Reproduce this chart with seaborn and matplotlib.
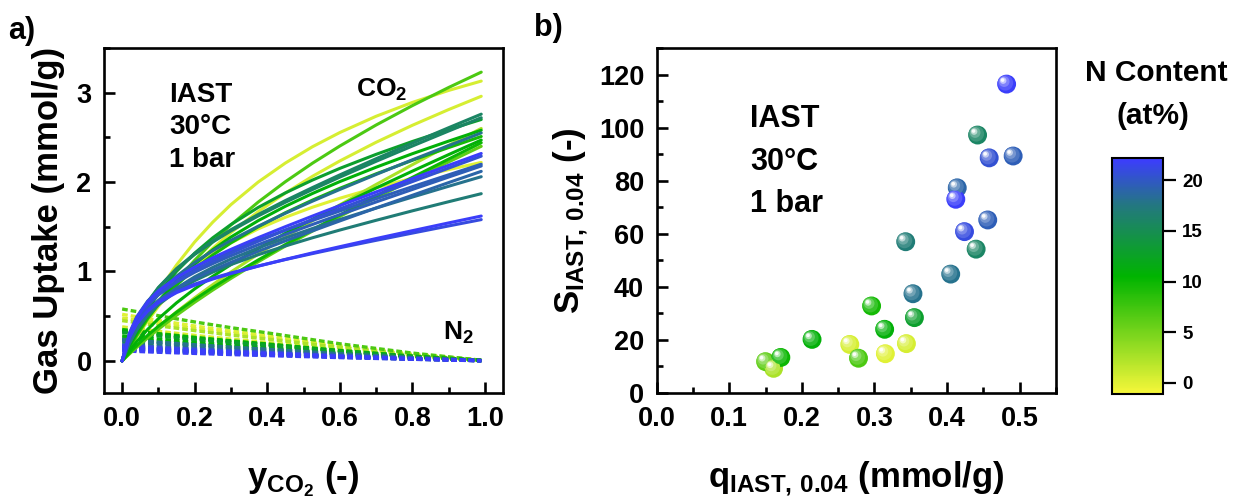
import matplotlib
matplotlib.use("Agg")
import numpy as np
import pandas as pd
import matplotlib.pyplot as plt
import seaborn as sns
from matplotlib import transforms
from matplotlib.cm import ScalarMappable
from matplotlib.colors import LinearSegmentedColormap, Normalize
from matplotlib.ticker import MultipleLocator

# ---------------------------------------------------------------- data
SAMPLES = ["C01", "C02", "C03", "C04", "C05", "C06", "C07", "C08", "C09",
           "C10", "C11", "C12", "C13", "C14", "C15", "C16", "C17", "C18",
           "C19", "C20", "C21", "C22", "C23"]

# nitrogen content of each carbon (at%)
N_CONTENT = [22.0, 16.0, 20.5, 19.5, 19.0, 22.0, 19.5, 21.0, 17.0, 16.0,
             18.0, 18.0, 9.5, 13.0, 11.0, 11.0, 0.5, 0.5, 0.0, 7.0,
             2.5, 6.0, 10.0]

# IAST CO2 uptake at y_CO2 = 0.04 (mmol/g) and CO2/N2 selectivity
Q_IAST = [0.482, 0.442, 0.458, 0.491, 0.414, 0.412, 0.456, 0.424, 0.343,
          0.440, 0.405, 0.353, 0.296, 0.355, 0.314, 0.214, 0.266, 0.344,
          0.315, 0.278, 0.161, 0.150, 0.171]
S_IAST = [116.4, 97.2, 88.6, 89.3, 77.3, 73.0, 65.2, 60.8, 57.0, 54.2,
          44.8, 37.4, 32.8, 28.4, 24.0, 20.2, 18.3, 18.6, 14.8, 13.1,
          9.3, 11.8, 13.4]

# IAST mixture isotherms at 30 °C, 1 bar, versus CO2 mole fraction
Y_CO2 = [0, 0.02, 0.04, 0.07, 0.1, 0.15, 0.2, 0.25, 0.3, 0.375, 0.45,
         0.525, 0.6, 0.7, 0.8, 0.9, 0.99]
CO2_UPTAKE = [
    [0, .302, .482, .657, .780, .931, 1.050, 1.153, 1.247, 1.378, 1.501, 1.620, 1.737, 1.889, 2.039, 2.187, 2.320],
    [0, .253, .442, .656, .821, 1.032, 1.199, 1.341, 1.467, 1.637, 1.793, 1.939, 2.080, 2.261, 2.436, 2.608, 2.760],
    [0, .286, .458, .626, .745, .892, 1.010, 1.112, 1.206, 1.337, 1.462, 1.582, 1.700, 1.854, 2.005, 2.156, 2.290],
    [0, .308, .491, .667, .787, .933, 1.046, 1.143, 1.230, 1.350, 1.463, 1.571, 1.676, 1.813, 1.948, 2.081, 2.200],
    [0, .258, .414, .567, .676, .811, .920, 1.015, 1.102, 1.225, 1.342, 1.454, 1.565, 1.710, 1.852, 1.994, 2.120],
    [0, .260, .412, .555, .651, .763, .846, .915, .976, 1.059, 1.135, 1.208, 1.277, 1.368, 1.456, 1.543, 1.620],
    [0, .286, .456, .622, .737, .879, .991, 1.088, 1.176, 1.299, 1.414, 1.526, 1.635, 1.777, 1.917, 2.056, 2.180],
    [0, .268, .424, .570, .666, .777, .858, .925, .983, 1.061, 1.133, 1.200, 1.265, 1.348, 1.429, 1.509, 1.580],
    [0, .197, .343, .506, .627, .780, .897, .993, 1.077, 1.187, 1.285, 1.377, 1.463, 1.572, 1.678, 1.780, 1.870],
    [0, .252, .440, .653, .816, 1.025, 1.190, 1.330, 1.454, 1.621, 1.774, 1.917, 2.055, 2.232, 2.403, 2.571, 2.720],
    [0, .231, .405, .602, .753, .947, 1.101, 1.232, 1.348, 1.506, 1.651, 1.787, 1.917, 2.085, 2.249, 2.408, 2.550],
    [0, .202, .353, .522, .650, .813, .940, 1.046, 1.139, 1.263, 1.375, 1.481, 1.581, 1.709, 1.832, 1.953, 2.060],
    [0, .158, .296, .477, .631, .848, 1.029, 1.184, 1.320, 1.499, 1.657, 1.799, 1.930, 2.092, 2.243, 2.386, 2.510],
    [0, .190, .355, .569, .750, 1.001, 1.205, 1.377, 1.525, 1.716, 1.879, 2.023, 2.153, 2.310, 2.454, 2.587, 2.700],
    [0, .167, .314, .505, .668, .895, 1.083, 1.244, 1.385, 1.568, 1.729, 1.873, 2.005, 2.166, 2.317, 2.458, 2.580],
    [0, .113, .214, .350, .471, .649, .805, .946, 1.077, 1.257, 1.426, 1.585, 1.737, 1.933, 2.122, 2.307, 2.470],
    [0, .138, .266, .444, .608, .852, 1.067, 1.260, 1.435, 1.669, 1.877, 2.065, 2.236, 2.445, 2.635, 2.811, 2.960],
    [0, .179, .344, .570, .775, 1.073, 1.330, 1.552, 1.748, 2.000, 2.213, 2.396, 2.554, 2.736, 2.891, 3.025, 3.130],
    [0, .169, .315, .503, .662, .878, 1.052, 1.197, 1.320, 1.476, 1.606, 1.719, 1.819, 1.937, 2.043, 2.139, 2.220],
    [0, .144, .278, .465, .637, .896, 1.125, 1.332, 1.521, 1.776, 2.004, 2.212, 2.403, 2.638, 2.855, 3.058, 3.230],
    [0, .082, .161, .274, .381, .548, .705, .853, .994, 1.194, 1.385, 1.568, 1.745, 1.973, 2.194, 2.410, 2.600],
    [0, .077, .150, .255, .354, .510, .655, .792, .922, 1.108, 1.284, 1.452, 1.615, 1.824, 2.028, 2.225, 2.400],
    [0, .089, .171, .284, .387, .544, .687, .821, .948, 1.128, 1.301, 1.468, 1.631, 1.843, 2.052, 2.257, 2.440],
]

Y_N2 = [0, 0.04, 0.1, 0.2, 0.3, 0.4, 0.6, 0.8, 0.99]
N2_UPTAKE = [
    [.110, .105, .096, .083, .070, .059, .036, .017, .001],
    [.120, .114, .104, .090, .077, .065, .040, .018, .001],
    [.130, .124, .113, .098, .083, .070, .043, .020, .002],
    [.140, .133, .122, .105, .090, .076, .046, .021, .002],
    [.140, .133, .122, .105, .090, .076, .046, .021, .002],
    [.150, .143, .131, .113, .096, .081, .050, .023, .002],
    [.180, .171, .157, .135, .115, .097, .059, .027, .002],
    [.170, .162, .148, .128, .109, .092, .056, .026, .002],
    [.160, .152, .139, .120, .102, .086, .053, .024, .002],
    [.210, .200, .183, .158, .134, .113, .069, .032, .003],
    [.230, .219, .200, .173, .147, .124, .076, .035, .003],
    [.240, .228, .209, .180, .154, .130, .079, .036, .003],
    [.250, .238, .218, .188, .160, .135, .083, .038, .003],
    [.320, .304, .278, .240, .205, .173, .106, .048, .004],
    [.340, .323, .296, .255, .218, .184, .112, .051, .004],
    [.280, .266, .244, .210, .179, .151, .092, .042, .003],
    [.380, .361, .331, .285, .243, .205, .125, .057, .005],
    [.480, .456, .418, .360, .307, .259, .158, .072, .006],
    [.520, .494, .452, .390, .333, .281, .172, .078, .006],
    [.580, .551, .505, .435, .371, .313, .191, .087, .007],
    [.450, .428, .392, .338, .288, .243, .149, .068, .005],
    [.330, .314, .287, .248, .211, .178, .109, .050, .004],
    [.350, .333, .305, .263, .224, .189, .116, .053, .004],
]

CBAR_TICKS = [0, 5, 10, 15, 20]

# ---------------------------------------------------------------- style
sns.set_style("ticks")
plt.rcParams.update({
    "font.family": ["Liberation Sans", "DejaVu Sans"],
    "font.weight": "bold",
    "axes.labelweight": "bold",
    "axes.linewidth": 1.9,
    "axes.edgecolor": "black",
    "axes.labelcolor": "black",
    "text.color": "black",
    "xtick.color": "black",
    "ytick.color": "black",
    "mathtext.fontset": "custom",
    "mathtext.rm": "Liberation Sans:bold",
    "mathtext.bf": "Liberation Sans:bold",
    "mathtext.it": "Liberation Sans:bold",
    "mathtext.default": "rm",
})

cmap = LinearSegmentedColormap.from_list(
    "n_content",
    [(0.0, "#f7f73a"), (0.498, "#00b400"), (0.798, "#23787f"), (1.0, "#3c3cff")],
)
norm = Normalize(vmin=-1.1, vmax=22.2)

fig = plt.figure(figsize=(12.34, 4.99), dpi=100)
ax1 = fig.add_axes([0.08428, 0.21242, 0.32334, 0.69138])
ax2 = fig.add_axes([0.53217, 0.21242, 0.32358, 0.69138])
cax = fig.add_axes([0.9009, 0.2104, 0.0413, 0.473])


def long_table(xs, table):
    rows = []
    for name, n, vals in zip(SAMPLES, N_CONTENT, table):
        for x, v in zip(xs, vals):
            rows.append((name, n, x, v))
    return pd.DataFrame(rows, columns=["sample", "N", "y", "uptake"])


co2_df = long_table(Y_CO2, CO2_UPTAKE)
n2_df = long_table(Y_N2, N2_UPTAKE)

# ---------------------------------------------------------------- panel a
sns.lineplot(data=n2_df, x="y", y="uptake", hue="N", units="sample",
             estimator=None, palette=cmap, hue_norm=norm, legend=False,
             lw=2.4, linestyle=(0, (1.7, 0.9)), ax=ax1)
sns.lineplot(data=co2_df, x="y", y="uptake", hue="N", units="sample",
             estimator=None, palette=cmap, hue_norm=norm, legend=False,
             lw=2.2, ax=ax1)

ax1.set_xlim(-0.05, 1.05)
ax1.set_ylim(-0.36, 3.5)
ax1.xaxis.set_minor_locator(MultipleLocator(0.1))
ax1.yaxis.set_major_locator(MultipleLocator(1))
ax1.yaxis.set_minor_locator(MultipleLocator(0.5))
ax1.set_xticks([0, 0.2, 0.4, 0.6, 0.8, 1.0])
ax1.set_xticklabels(["0.0", "0.2", "0.4", "0.6", "0.8", "1.0"])
ax1.set_xlabel("y$_{\\rm CO_2}$ (-)", fontsize=25, labelpad=20)
ax1.set_ylabel("Gas Uptake (mmol/g)", fontsize=25, labelpad=8)

t1 = dict(transform=ax1.transAxes, fontsize=20, fontweight="bold", va="baseline")
ax1.text(0.163, 0.843, "IAST", **t1)
ax1.text(0.163, 0.751, "30°C", **t1)
ax1.text(0.163, 0.655, "1 bar", **t1)
ax1.text(0.632, 0.858, "CO$_2$", transform=ax1.transAxes, fontsize=19,
         fontweight="bold", va="baseline")
ax1.text(0.850, 0.154, "N$_2$", transform=ax1.transAxes, fontsize=19,
         fontweight="bold", va="baseline")

# ---------------------------------------------------------------- panel b
sns.scatterplot(x=Q_IAST, y=S_IAST, hue=N_CONTENT, palette=cmap,
                hue_norm=norm, s=185, edgecolor="none", linewidth=0,
                legend=False, ax=ax2, zorder=3)

# glossy highlight layers that give each marker a spherical look
base = cmap(norm(np.array(N_CONTENT)))[:, :3]
for frac, size, off in [(0.15, 125, 0.9), (0.35, 60, 1.8), (0.70, 22, 2.5),
                        (0.97, 7, 2.9)]:
    shade = base + (1.0 - base) * frac
    tr = transforms.offset_copy(ax2.transData, fig=fig, x=-off, y=off,
                                units="points")
    ax2.scatter(Q_IAST, S_IAST, s=size, c=shade, edgecolors="none",
                transform=tr, zorder=4)

ax2.set_xlim(0, 0.55)
ax2.set_ylim(0, 130)
ax2.xaxis.set_minor_locator(MultipleLocator(0.05))
ax2.yaxis.set_major_locator(MultipleLocator(20))
ax2.yaxis.set_minor_locator(MultipleLocator(10))
ax2.set_xticks([0, 0.1, 0.2, 0.3, 0.4, 0.5])
ax2.set_xticklabels(["0.0", "0.1", "0.2", "0.3", "0.4", "0.5"])
ax2.set_xlabel("q$_{\\rm IAST,\\!\\ 0.04}$ (mmol/g)", fontsize=25, labelpad=20)
ax2.set_ylabel("S$_{\\rm IAST,\\!\\ 0.04}$ (-)", fontsize=25, labelpad=6)

t2 = dict(transform=ax2.transAxes, fontsize=22, fontweight="bold", va="baseline")
ax2.text(0.234, 0.771, "IAST", **t2)
ax2.text(0.234, 0.646, "30°C", **t2)
ax2.text(0.234, 0.525, "1 bar", **t2)

for ax in (ax1, ax2):
    for sp in ax.spines.values():
        sp.set_linewidth(1.9)
        sp.set_visible(True)
    ax.tick_params(which="both", direction="in", top=False, right=False,
                   width=1.9, colors="black")
    ax.tick_params(which="major", length=8, labelsize=19.5, pad=9)
    ax.tick_params(which="minor", length=4.5)

# ---------------------------------------------------------------- colorbar
cb = fig.colorbar(ScalarMappable(norm=norm, cmap=cmap), cax=cax,
                  ticks=CBAR_TICKS)
cb.outline.set_linewidth(1.5)
cax.tick_params(direction="out", length=9, width=1.6, labelsize=13.5, pad=5,
                colors="black")
cax.minorticks_off()
fig.text(1156.5 / 1234, 1 - 73 / 499, "N Content", ha="center", va="center",
         fontsize=21.5, fontweight="bold")
fig.text(1153 / 1234, 1 - 116 / 499, "(at%)", ha="center", va="center",
         fontsize=21.5, fontweight="bold")

# ---------------------------------------------------------------- panel tags
fig.text(8 / 1234, 1 - 31 / 499, "a)", fontsize=22, fontweight="bold",
         va="center")
fig.text(534 / 1234, 1 - 28 / 499, "b)", fontsize=22, fontweight="bold",
         va="center")

fig.savefig("out.png", dpi=100)
